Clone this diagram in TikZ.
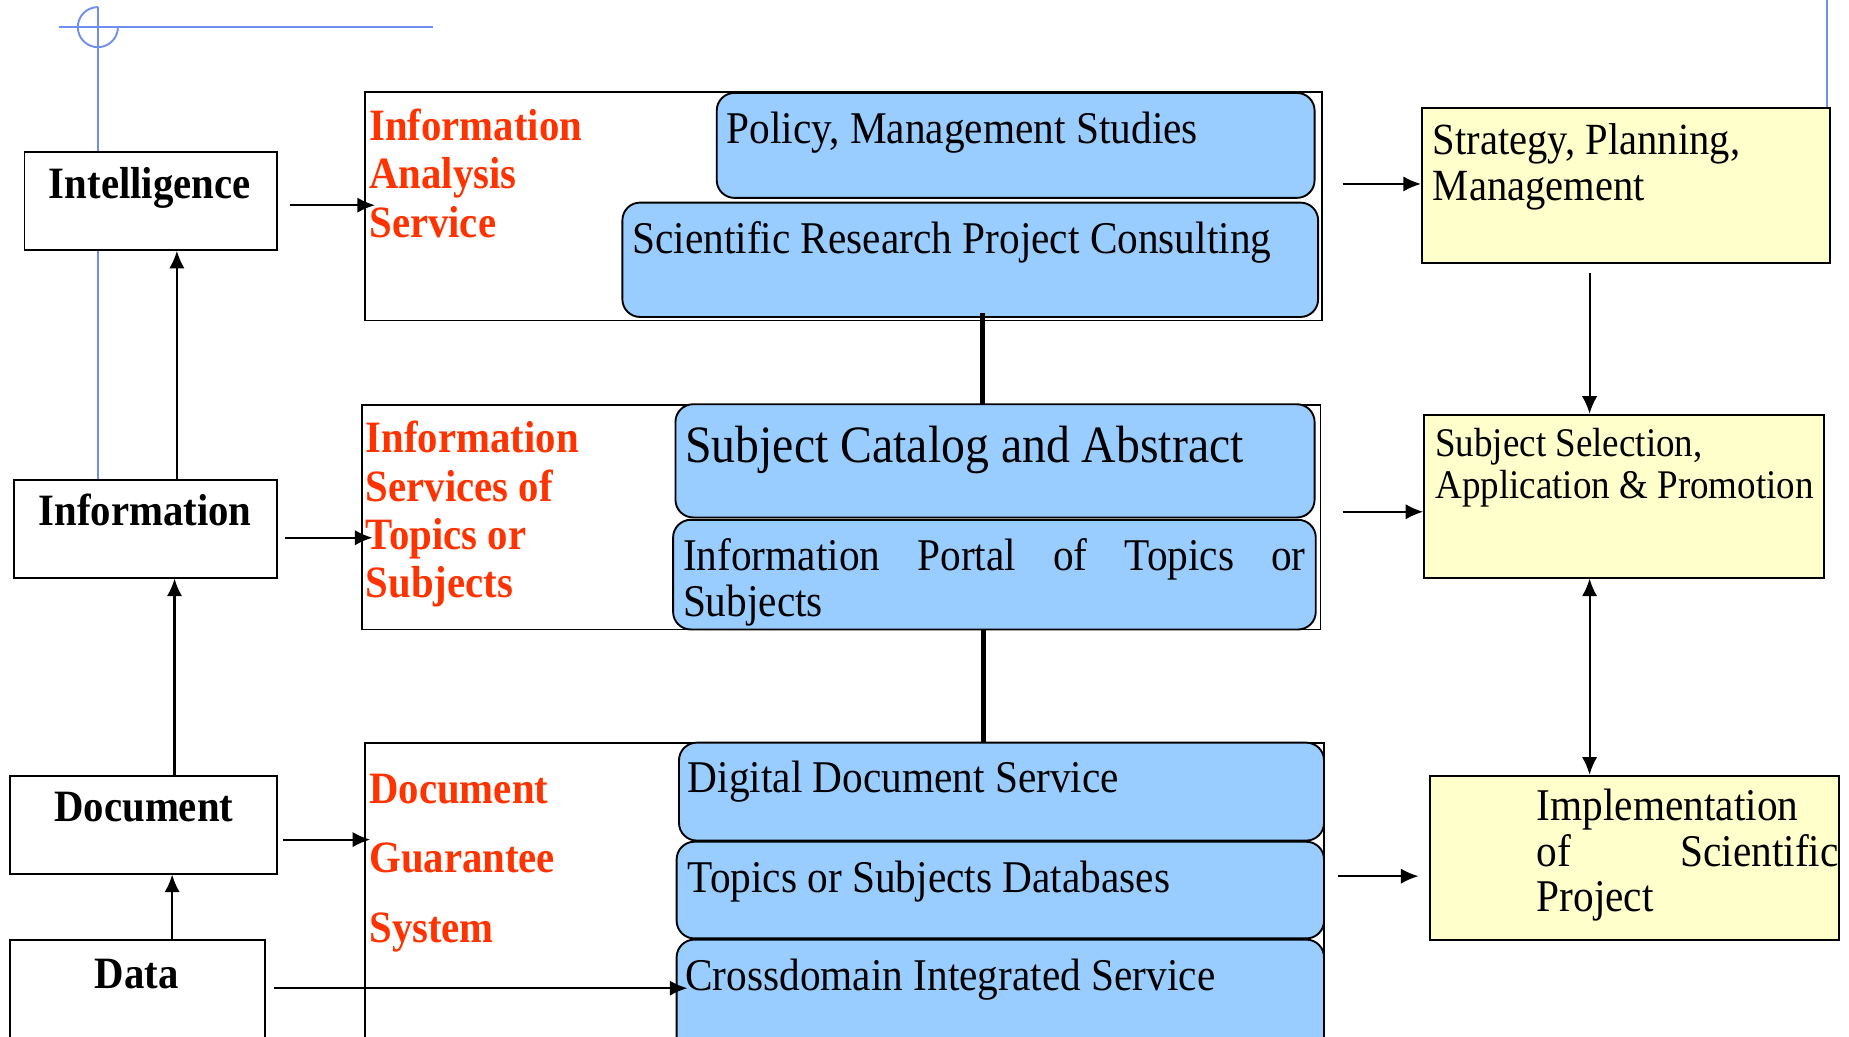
\documentclass[tikz,border=0pt]{standalone}
\usepackage{fontspec}
\setmainfont{Liberation Serif}[FakeStretch=0.91]
\usetikzlibrary{arrows.meta}
\definecolor{bluefill}{HTML}{99CCFF}
\definecolor{yellowfill}{HTML}{FFFFCC}
\definecolor{redtxt}{HTML}{FF3300}
\definecolor{guide}{HTML}{6F8FF0}
\begin{document}
\begin{tikzpicture}[x=1pt,y=-1pt,
  sz/.style 2 args={minimum width=#1pt, minimum height=#2pt},
  box/.style={draw=black, line width=1.6pt, inner sep=0pt, anchor=north west},
  lbox/.style={box, fill=white},
  obox/.style={box, fill=white},
  bbox/.style={box, fill=bluefill, rounded corners=15pt},
  ybox/.style={box, fill=yellowfill},
  ltxt/.style={anchor=base, inner sep=0pt, font=\fontsize{38}{41}\bfseries\selectfont},
  rtxt/.style={anchor=base west, inner sep=0pt, align=left, text=redtxt, font=\fontsize{38}{41}\bfseries\selectfont},
  btxt/.style={anchor=base west, inner sep=0pt, align=left, font=\fontsize{38.5}{39}\selectfont},
  arr/.style={-{Latex[length=15pt,width=13pt]}, line width=1.8pt},
  darr/.style={{Latex[length=15pt,width=13pt]}-{Latex[length=15pt,width=13pt]}, line width=1.8pt},
  thick line/.style={line width=4pt},
  guideline/.style={draw=guide, line width=1.6pt}]
\useasboundingbox (0,0) rectangle (1568,879);

% guide lines (blue)
\coordinate (g0) at (50,23);
\coordinate (g1) at (367,23);
\coordinate (g2) at (83,6);
\coordinate (g3) at (1549,0);
\draw[guideline] (g0) -- (g1);
\draw[guideline] (g2) arc[start angle=270, end angle=0, radius=17];

% left boxes
\node[lbox, sz={214}{83}] (intel) at (20,128) {};
\node[lbox, sz={223}{83}] (info) at (11,406) {};
\node[lbox, sz={226}{83}] (doc) at (8,657) {};
\node[lbox, sz={216}{95}] (data) at (8,796) {};
\draw[guideline] (g2) -- (g2 |- intel.north);
\draw[guideline] (g2 |- intel.south) -- (g2 |- info.north);

\node[ltxt] (intelT) at (127,168) {Intelligence};
\node[ltxt] (infoT) at (123,446) {Information};
\node[ltxt] (docT) at (122,697) {Document};
\node[ltxt] (dataT) at (116,838) {Data};

% middle outer boxes
\node[obox, sz={811}{194}] (box1) at (309,77) {};
\node[obox, sz={813}{190}] (box2) at (306,343) {};
\node[obox, sz={813}{270}] (box3) at (309,629) {};

% blue rounded boxes
\node[bbox, sz={507}{89}] (pol) at (607,78) {};
\node[bbox, sz={590}{97}] (sci) at (527,171) {};
\node[bbox, sz={542}{96}] (cat) at (572,342) {};
\node[bbox, sz={545}{93}] (portal) at (570,440) {};
\node[bbox, sz={547}{83}] (dig) at (575,629) {};
\node[bbox, sz={549}{82}] (tdb) at (573,713) {};
\node[bbox, sz={549}{100}] (cross) at (573,796) {};

% yellow boxes
\node[ybox, sz={346}{131}] (strat) at (1205,91) {};
\node[ybox, sz={339}{138}] (subsel) at (1207,351) {};
\node[ybox, sz={347}{139}] (impl) at (1212,657) {};
\draw[guideline] (g3) -- (g3 |- strat.north);

% red texts (anchored at the baseline of the last line)
\node[rtxt] (iasT) at (313,201) {Information\\Analysis\\Service};
\node[rtxt] (istsT) at (310,507) {Information\\Services of\\Topics or\\Subjects};
\node[rtxt, font=\fontsize{38}{59}\bfseries\selectfont] (dgsT) at (313,799) {Document\\Guarantee\\System};

% blue box texts
\node[btxt] (polT) at (616,122) {Policy, Management Studies};
\node[btxt] (sciT) at (536,215) {Scientific Research Project Consulting};
\node[btxt, font=\fontsize{44.5}{44}\selectfont] (catT) at (581,392) {Subject Catalog and Abstract};
\node[btxt] (portalT) at (579,523) {\makebox[528pt][s]{Information Portal of Topics or}\\Subjects};
\node[btxt] (digT) at (583,672) {Digital Document Service};
\node[btxt] (tdbT) at (583,757) {Topics or Subjects Databases};
\node[btxt] (crossT) at (581,840) {Crossdomain Integrated Service};

% yellow box texts
\node[btxt, font=\fontsize{37.8}{39}\selectfont] (stratT) at (1215,170) {Strategy, Planning,\\Management};
\node[btxt, font=\fontsize{34.5}{36}\selectfont] (subselT) at (1217,423) {Subject Selection,\\Application \& Promotion};
\node[btxt, font=\fontsize{38.5}{38.5}\selectfont] (implT) at (1303,773) {Implementation\\\makebox[256pt][s]{of Scientific}\\Project};

% left vertical arrows
\coordinate (ax1) at (150,0);
\coordinate (ax2) at (148,0);
\coordinate (ax3) at (146,0);
\draw[arr] (ax1 |- info.north) -- (ax1 |- intel.south);
\draw[arr] (ax2 |- doc.north) -- (ax2 |- info.south);
\draw[arr] (ax3 |- data.north) -- (ax3 |- doc.south);

% left horizontal arrows
\coordinate (ay1) at (0,174);
\coordinate (ay2) at (0,456);
\coordinate (ay3) at (0,712);
\coordinate (ay4) at (0,838);
\draw[arr, shorten <=10pt, shorten >=-9pt] (intel.east |- ay1) -- (box1.west |- ay1);
\draw[arr, shorten <=6pt, shorten >=-10pt] (info.east |- ay2) -- (box2.west |- ay2);
\draw[arr, shorten <=4pt, shorten >=-5pt] (doc.east |- ay3) -- (box3.west |- ay3);
\draw[arr, shorten <=7pt, shorten >=-10pt] (data.east |- ay4) -- (cross.west |- ay4);

% thick connectors
\coordinate (tx1) at (833,0);
\coordinate (tx2) at (834,0);
\draw[thick line] ([yshift=4pt]tx1 |- sci.south) -- (tx1 |- box2.north);
\draw[thick line] (tx2 |- box2.south) -- (tx2 |- box3.north);

% right arrows
\coordinate (ry1) at (0,156);
\coordinate (ry2) at (0,434);
\coordinate (ry3) at (0,743);
\draw[arr, shorten <=17pt] (box1.east |- ry1) -- (strat.west |- ry1);
\draw[arr, shorten <=18pt] (box2.east |- ry2) -- (subsel.west |- ry2);
\draw[arr, shorten <=11pt, shorten >=9pt] (box3.east |- ry3) -- (impl.west |- ry3);

\coordinate (vx) at (1348,0);
\draw[arr, shorten <=8pt] (vx |- strat.south) -- (vx |- subsel.north);
\draw[darr] (vx |- subsel.south) -- (vx |- impl.north);
\end{tikzpicture}
\end{document}
